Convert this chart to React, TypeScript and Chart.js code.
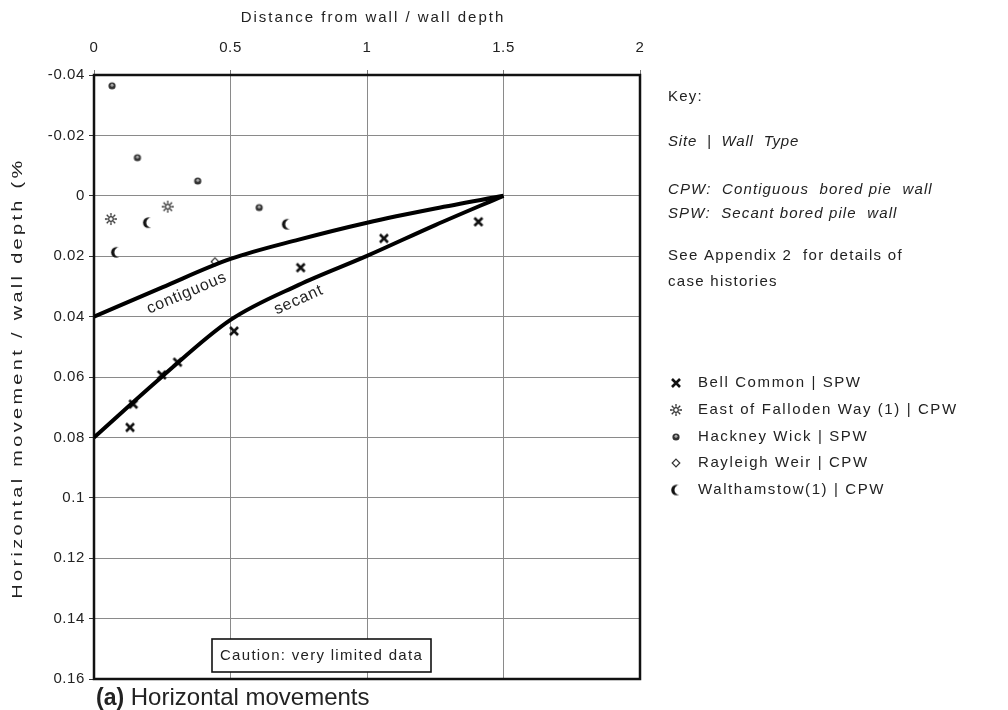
import React, { useEffect, useRef } from "react";
import { Chart, registerables } from "chart.js";
Chart.register(...registerables);

const W = 1008;
const H = 710;
const FONT = "'Liberation Sans', Arial, Helvetica, sans-serif";

// Axis ticks
const xTickValues = [0, 0.5, 1, 1.5, 2];
const yTickValues = [-0.04, -0.02, 0, 0.02, 0.04, 0.06, 0.08, 0.1, 0.12, 0.14, 0.16];

// Design curves
const curveX = [0, 0.25, 0.5, 0.75, 1.0, 1.25, 1.5];
const contiguousY = [0.04, 0.0303, 0.0209, 0.0145, 0.0089, 0.0042, 0];
const secantY = [0.08, 0.0598, 0.0411, 0.0295, 0.0199, 0.0097, 0];

// Case histories
const bellCommonX = [0.132, 0.144, 0.248, 0.306, 0.513, 0.757, 1.062, 1.408];
const bellCommonY = [0.0767, 0.069, 0.0593, 0.0551, 0.0448, 0.0238, 0.0141, 0.0086];
const fallodenX = [0.062, 0.27];
const fallodenY = [0.0077, 0.0036];
const hackneyX = [0.066, 0.159, 0.38, 0.605];
const hackneyY = [-0.0364, -0.0126, -0.0049, 0.0039];
const rayleighX = [0.443];
const rayleighY = [0.0218];
const walthamX = [0.08, 0.197, 0.706];
const walthamY = [0.0187, 0.0089, 0.0094];

const legendLabels = [
  "Bell Common | SPW",
  "East of Falloden Way (1) | CPW",
  "Hackney Wick | SPW",
  "Rayleigh Weir | CPW",
  "Walthamstow(1) | CPW",
];

function zip(xs: number[], ys: number[]) {
  return xs.map((x, i) => ({ x, y: ys[i] }));
}

function makeIcon(w: number, h: number, draw: (g: CanvasRenderingContext2D) => void) {
  const c = document.createElement("canvas");
  c.width = w;
  c.height = h;
  const g = c.getContext("2d") as CanvasRenderingContext2D;
  draw(g);
  return c;
}

function buildIcons() {
  const cross = makeIcon(14, 14, (g) => {
    g.strokeStyle = "#111";
    g.lineWidth = 2.6;
    g.beginPath();
    g.moveTo(3, 3);
    g.lineTo(11, 11);
    g.moveTo(11, 3);
    g.lineTo(3, 11);
    g.stroke();
  });
  const star = makeIcon(14, 14, (g) => {
    g.strokeStyle = "#333";
    g.lineWidth = 1.2;
    g.beginPath();
    g.arc(7, 7, 2.3, 0, Math.PI * 2);
    g.stroke();
    g.lineWidth = 1.3;
    g.beginPath();
    for (let k = 0; k < 8; k++) {
      const a = (k * Math.PI) / 4;
      g.moveTo(7 + Math.cos(a) * 3.3, 7 + Math.sin(a) * 3.3);
      g.lineTo(7 + Math.cos(a) * 6, 7 + Math.sin(a) * 6);
    }
    g.stroke();
  });
  const dot = makeIcon(10, 10, (g) => {
    g.fillStyle = "#333";
    g.beginPath();
    g.arc(5, 5, 3.6, 0, Math.PI * 2);
    g.fill();
    g.fillStyle = "#aaa";
    g.beginPath();
    g.arc(5, 4.3, 1.5, 0, Math.PI * 2);
    g.fill();
  });
  const diamond = makeIcon(10, 10, (g) => {
    g.strokeStyle = "#333";
    g.fillStyle = "#fff";
    g.lineWidth = 1.2;
    g.beginPath();
    g.moveTo(5, 1.2);
    g.lineTo(8.8, 5);
    g.lineTo(5, 8.8);
    g.lineTo(1.2, 5);
    g.closePath();
    g.fill();
    g.stroke();
  });
  const crescent = makeIcon(12, 13, (g) => {
    g.fillStyle = "#111";
    g.beginPath();
    g.arc(6.5, 6.5, 5.3, 0, Math.PI * 2);
    g.fill();
    g.globalCompositeOperation = "destination-out";
    g.beginPath();
    g.arc(9.4, 6.5, 4.9, 0, Math.PI * 2);
    g.fill();
    g.globalCompositeOperation = "source-over";
  });
  return [cross, star, dot, diamond, crescent];
}

function drawText(
  ctx: CanvasRenderingContext2D,
  str: string,
  x: number,
  y: number,
  font: string,
  spacing: number,
  align: CanvasTextAlign = "left",
  rotation = 0,
  stretch = 1
) {
  ctx.save();
  ctx.font = font;
  (ctx as any).letterSpacing = spacing + "px";
  ctx.fillStyle = "#222";
  ctx.textAlign = align;
  ctx.textBaseline = "middle";
  ctx.translate(x, y);
  if (rotation) ctx.rotate(rotation);
  if (stretch !== 1) ctx.scale(stretch, 1);
  ctx.fillText(str, 0, 0);
  ctx.restore();
}

export default function App() {
  const ref = useRef<HTMLCanvasElement | null>(null);

  useEffect(() => {
    const canvas = ref.current;
    if (!canvas) return;
    const icons = buildIcons();

    const decor = {
      id: "decor",
      beforeDraw(chart: any) {
        const ctx = chart.ctx as CanvasRenderingContext2D;
        ctx.save();
        ctx.fillStyle = "#fff";
        ctx.fillRect(0, 0, W, H);
        ctx.restore();
        (ctx as any).letterSpacing = "0.6px";
      },
      beforeDatasetsDraw(chart: any) {
        const ctx = chart.ctx as CanvasRenderingContext2D;
        const a = chart.chartArea;
        ctx.save();
        ctx.strokeStyle = "#111";
        ctx.lineWidth = 2.5;
        ctx.strokeRect(a.left, a.top, a.right - a.left, a.bottom - a.top);
        ctx.restore();
      },
      afterDraw(chart: any) {
        const ctx = chart.ctx as CanvasRenderingContext2D;
        (ctx as any).letterSpacing = "0px";
        const xs = chart.scales.x;
        const ys = chart.scales.y;
        const a = chart.chartArea;

        // axis titles
        drawText(ctx, "Distance from wall / wall depth", (a.left + a.right) / 2 + 6, 18, `15px ${FONT}`, 2, "center");
        drawText(ctx, "Horizontal movement / wall depth (%", 18, 378, `15px ${FONT}`, 2.5, "center", -Math.PI / 2, 1.33);

        // curve labels
        drawText(ctx, "contiguous", xs.getPixelForValue(0.34), ys.getPixelForValue(0.0322), `16px ${FONT}`, 0.8, "center", -0.4);
        drawText(ctx, "secant", xs.getPixelForValue(0.75), ys.getPixelForValue(0.0345), `16px ${FONT}`, 0.8, "center", -0.42);

        // caution box
        ctx.save();
        ctx.fillStyle = "#fff";
        ctx.fillRect(212, 639, 219, 33);
        ctx.strokeStyle = "#111";
        ctx.lineWidth = 1.6;
        ctx.strokeRect(212, 639, 219, 33);
        ctx.restore();
        drawText(ctx, "Caution: very limited data", 321.5, 656, `15px ${FONT}`, 1.3, "center");

        // caption
        ctx.save();
        ctx.fillStyle = "#222";
        ctx.textBaseline = "alphabetic";
        ctx.font = `bold 23px ${FONT}`;
        (ctx as any).letterSpacing = "0px";
        ctx.fillText("(a)", 96, 705);
        const wA = ctx.measureText("(a)").width;
        ctx.font = `24px ${FONT}`;
        ctx.fillText(" Horizontal movements", 96 + wA, 705);
        ctx.restore();

        // key
        const kf = `15px ${FONT}`;
        const kfi = `italic 15px ${FONT}`;
        drawText(ctx, "Key:", 668, 97, kf, 1.2);
        drawText(ctx, "Site  |  Wall  Type", 668, 142, kfi, 0.8);
        drawText(ctx, "CPW:  Contiguous  bored pie  wall", 668, 190, kfi, 1.1);
        drawText(ctx, "SPW:  Secant bored pile  wall", 668, 214, kfi, 1.1);
        drawText(ctx, "See Appendix 2  for details of", 668, 256, kf, 1.3);
        drawText(ctx, "case histories", 668, 282, kf, 1.3);

        const rows = [383, 410, 437, 463, 490];
        rows.forEach((ry, i) => {
          const ic = icons[i];
          ctx.drawImage(ic, 676 - ic.width / 2, ry - ic.height / 2);
          drawText(ctx, legendLabels[i], 698, ry, kf, 1.6);
        });
      },
    };

    const lineStyle = {
      showLine: true,
      borderColor: "#000",
      borderWidth: 4,
      pointRadius: 0,
      cubicInterpolationMode: "monotone" as const,
      fill: false,
    };

    const chart = new Chart(canvas, {
      type: "scatter",
      data: {
        datasets: [
          { label: "contiguous", data: zip(curveX, contiguousY), ...lineStyle },
          { label: "secant", data: zip(curveX, secantY), ...lineStyle },
          { label: legendLabels[0], data: zip(bellCommonX, bellCommonY), pointStyle: icons[0] as any, pointRadius: 7 },
          { label: legendLabels[1], data: zip(fallodenX, fallodenY), pointStyle: icons[1] as any, pointRadius: 7 },
          { label: legendLabels[2], data: zip(hackneyX, hackneyY), pointStyle: icons[2] as any, pointRadius: 5 },
          { label: legendLabels[3], data: zip(rayleighX, rayleighY), pointStyle: icons[3] as any, pointRadius: 5 },
          { label: legendLabels[4], data: zip(walthamX, walthamY), pointStyle: icons[4] as any, pointRadius: 6 },
        ],
      },
      options: {
        responsive: false,
        animation: false,
        events: [],
        layout: { padding: { left: 4, top: 0, right: W - 640, bottom: H - 679 } },
        plugins: { legend: { display: false }, tooltip: { enabled: false } },
        scales: {
          x: {
            type: "linear",
            position: "top",
            min: 0,
            max: 2,
            afterBuildTicks: (s: any) => {
              s.ticks = xTickValues.map((v) => ({ value: v }));
            },
            afterFit: (s: any) => {
              s.height = 75;
            },
            ticks: {
              font: { family: FONT, size: 15 },
              color: "#222",
              padding: 13,
              maxRotation: 0,
              callback: (v: any) => String(Number(Number(v).toFixed(2))),
            },
            grid: { color: "#8a8a8a", lineWidth: 1, tickLength: 5, tickColor: "#777" },
            border: { display: false },
          },
          y: {
            type: "linear",
            reverse: true,
            min: -0.04,
            max: 0.16,
            afterBuildTicks: (s: any) => {
              s.ticks = yTickValues.map((v) => ({ value: v }));
            },
            afterFit: (s: any) => {
              s.width = 90;
            },
            ticks: {
              font: { family: FONT, size: 15 },
              color: "#222",
              padding: 4,
              callback: (v: any) => String(Number(Number(v).toFixed(2))),
            },
            grid: { color: "#8a8a8a", lineWidth: 1, tickLength: 5, tickColor: "#333" },
            border: { display: false },
          },
        },
      },
      plugins: [decor],
    });

    return () => chart.destroy();
  }, []);

  return (
    <div style={{ position: "fixed", left: 0, top: 0, width: W, height: H, background: "#fff" }}>
      <canvas ref={ref} width={W} height={H} style={{ display: "block", width: W, height: H }} />
    </div>
  );
}
